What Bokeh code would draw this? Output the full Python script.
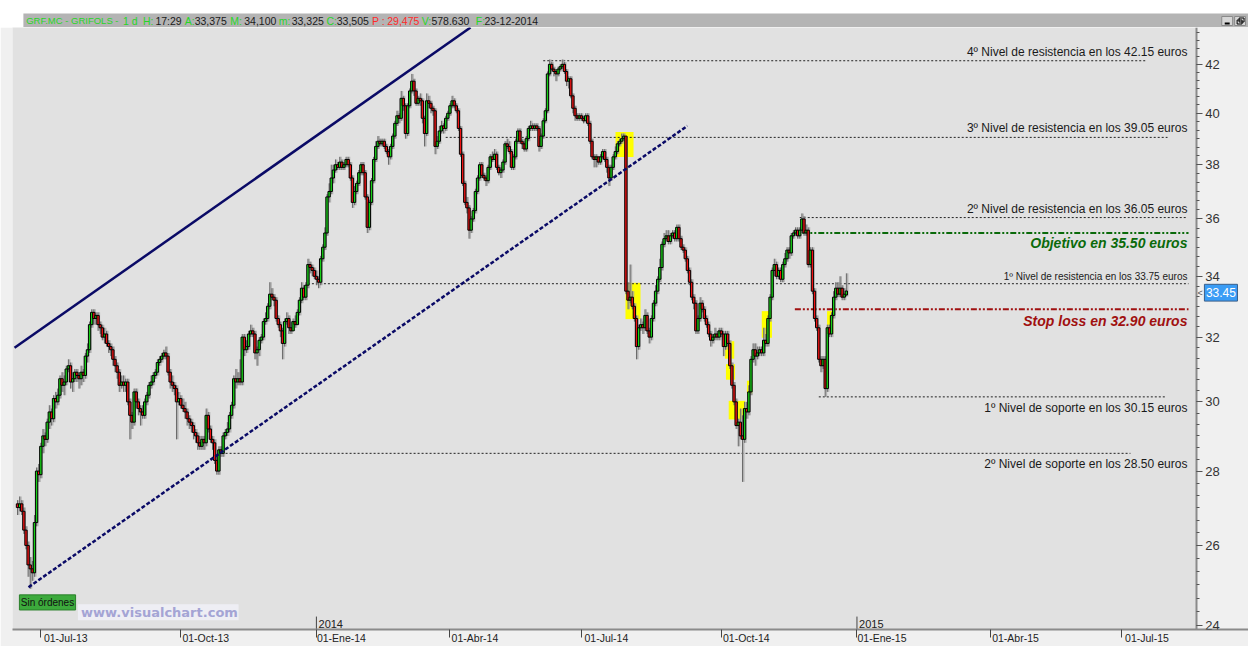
import numpy as np
import pandas as pd
from bokeh.plotting import figure
from bokeh.models import Range1d, FixedTicker, ColumnDataSource, PrintfTickFormatter
from bokeh.layouts import column
from bokeh.core.properties import value
from bokeh.embed import file_html
from bokeh.resources import INLINE

# ---------------- data (daily bars GRF.MC, 14-Jun-2013 .. 23-Dec-2014) ----------------
closes = [
27.0, 27.1, 26.9, 26.4, 26.0, 25.5, 25.4, 25.3, 26.6, 28.0,
27.9, 28.7, 29.0, 28.9, 29.4, 29.7, 29.5, 30.1, 30.0, 30.2,
30.7, 30.5, 30.6, 31.0, 31.1, 30.6, 30.7, 30.9, 30.8, 30.7,
30.9, 30.8, 31.4, 31.6, 32.4, 32.8, 32.6, 32.7, 32.4, 32.3,
32.0, 32.1, 31.8, 31.7, 31.6, 31.3, 31.1, 30.9, 30.5, 30.6,
30.5, 30.6, 30.0, 29.6, 29.4, 30.3, 30.0, 29.8, 29.7, 29.6,
30.0, 30.2, 30.5, 30.6, 30.8, 30.9, 31.2, 31.3, 31.4, 31.5,
31.4, 30.9, 30.6, 30.5, 30.4, 30.0, 30.1, 29.9, 29.8, 29.7,
29.5, 29.4, 29.3, 29.1, 29.0, 28.8, 28.7, 28.9, 28.8, 29.6,
29.2, 28.9, 28.8, 28.3, 28.0, 28.6, 28.5, 29.0, 29.1, 29.2,
29.6, 29.9, 30.7, 30.6, 30.7, 30.6, 32.0, 31.6, 31.7, 32.1,
32.2, 32.1, 31.5, 31.6, 31.9, 32.0, 32.5, 32.6, 33.0, 33.4,
33.3, 33.2, 32.6, 32.4, 32.2, 31.8, 32.5, 32.6, 32.3, 32.2,
32.5, 32.4, 32.8, 33.2, 33.6, 33.3, 33.7, 34.4, 34.3, 34.2,
34.0, 33.9, 33.8, 34.6, 35.0, 35.5, 36.8, 37.0, 37.5, 37.8,
38.0, 37.9, 38.1, 37.9, 38.0, 38.2, 38.0, 37.5, 36.6, 37.0,
37.3, 37.7, 38.0, 37.7, 36.8, 35.7, 36.6, 37.4, 38.2, 38.7,
38.9, 38.8, 38.9, 38.7, 38.5, 38.3, 38.7, 39.1, 39.6, 39.9,
39.8, 40.6, 40.3, 39.2, 40.3, 40.9, 41.3, 40.9, 40.4, 40.6,
40.5, 39.8, 39.2, 40.5, 40.4, 40.2, 40.1, 38.7, 38.9, 39.3,
39.5, 39.4, 39.8, 40.0, 40.3, 40.5, 40.3, 40.1, 39.4, 38.4,
37.3, 36.6, 36.4, 35.6, 36.0, 36.3, 37.0, 37.5, 38.0, 37.6,
37.5, 37.4, 37.9, 38.3, 38.2, 38.4, 37.9, 37.7, 37.8, 38.1,
38.8, 38.7, 38.5, 37.9, 38.3, 38.9, 39.3, 38.9, 38.8, 38.6,
39.0, 39.4, 39.5, 39.4, 39.5, 39.4, 38.7, 39.1, 39.7, 40.1,
41.6, 42.0, 41.8, 41.7, 41.6, 41.8, 41.9, 42.0, 41.7, 41.3,
41.4, 40.7, 40.2, 39.9, 39.8, 39.9, 39.8, 39.7, 39.9, 39.6,
38.9, 38.3, 38.2, 38.3, 38.1, 38.3, 38.5, 38.2, 37.9, 37.5,
37.9, 38.3, 38.5, 38.8, 38.9, 39.0, 39.1, 33.5, 33.2, 33.3,
33.0, 32.6, 31.7, 32.3, 32.4, 32.3, 32.7, 32.2, 32.0, 32.6,
33.1, 33.5, 33.9, 34.3, 35.1, 35.3, 35.4, 35.2, 35.4, 35.5,
35.3, 35.7, 35.3, 35.0, 34.9, 34.6, 34.2, 33.8, 33.3, 33.1,
32.2, 32.6, 33.1, 32.9, 32.6, 32.4, 32.1, 31.9, 32.0, 32.1,
32.0, 32.2, 32.1, 31.7, 32.1, 31.8, 31.1, 30.5, 30.0, 29.3,
29.4, 29.0, 28.9, 29.8, 29.7, 30.3, 31.3, 31.6, 31.4, 31.5,
31.6, 31.5, 31.9, 31.8, 32.6, 33.3, 34.2, 34.4, 34.0, 34.2,
33.9, 34.4, 34.6, 34.9, 34.8, 35.4, 35.5, 35.6, 35.4, 35.6,
36.0, 35.5, 35.6, 34.4, 34.9, 33.5, 32.6, 32.3, 31.3, 31.1,
31.3, 30.4, 32.3, 32.1, 32.7, 33.3, 33.6, 33.4, 33.6, 33.3,
33.4, 33.505]

highs = [
27.2, 27.3, 27.2, 27.0, 26.5, 26.1, 25.7, 25.6, 26.8, 28.1,
28.2, 28.8, 29.2, 29.1, 29.5, 29.9, 29.8, 30.2, 30.3, 30.4,
30.8, 30.9, 30.8, 31.1, 31.3, 31.2, 30.9, 31.0, 31.0, 30.9,
31.1, 31.0, 31.5, 31.8, 32.5, 32.9, 32.9, 32.8, 32.8, 32.5,
32.4, 32.3, 32.2, 31.9, 31.8, 31.7, 31.4, 31.2, 31.0, 30.8,
30.8, 30.7, 30.7, 30.1, 29.7, 30.4, 30.4, 30.1, 29.9, 29.9,
30.1, 30.3, 30.6, 30.8, 30.9, 31.0, 31.3, 31.4, 31.5, 31.6,
31.7, 31.5, 31.0, 30.8, 30.6, 30.5, 30.3, 30.2, 30.1, 30.0,
29.8, 29.6, 29.5, 29.4, 29.2, 29.1, 29.0, 29.0, 29.0, 29.8,
29.7, 29.3, 29.0, 28.9, 28.4, 28.7, 28.7, 29.1, 29.2, 29.4,
29.7, 30.0, 30.8, 31.0, 30.9, 31.3, 32.1, 32.1, 31.9, 32.2,
32.4, 32.3, 32.2, 31.7, 32.0, 32.1, 32.6, 32.8, 33.1, 33.8,
33.6, 33.4, 33.3, 32.7, 32.5, 32.3, 32.6, 32.8, 32.7, 32.5,
32.6, 32.7, 32.9, 33.3, 33.8, 33.7, 33.8, 34.6, 34.5, 34.4,
34.3, 34.2, 34.0, 34.7, 35.1, 35.7, 36.9, 37.3, 38.0, 38.0,
38.2, 38.1, 38.3, 38.2, 38.1, 38.3, 38.3, 38.1, 37.6, 37.2,
37.4, 37.8, 38.1, 38.1, 37.8, 36.9, 36.7, 37.5, 38.3, 38.9,
39.1, 39.0, 39.0, 39.0, 38.8, 38.6, 38.8, 39.2, 39.7, 40.1,
40.0, 40.9, 40.7, 40.4, 40.4, 41.0, 41.6, 41.4, 41.0, 40.7,
40.8, 40.6, 39.9, 40.8, 40.7, 40.5, 40.3, 40.2, 39.1, 39.5,
39.7, 39.6, 39.9, 40.1, 40.4, 40.7, 40.6, 40.4, 40.2, 39.5,
38.5, 37.4, 36.8, 36.5, 36.1, 36.4, 37.1, 37.6, 38.1, 38.1,
37.7, 37.6, 38.0, 38.4, 38.5, 38.6, 38.5, 38.0, 37.9, 38.2,
38.9, 39.0, 38.9, 38.6, 38.4, 39.0, 39.4, 39.4, 39.0, 38.9,
39.1, 39.5, 39.7, 39.6, 39.6, 39.6, 39.5, 39.2, 39.8, 40.2,
41.7, 42.2, 42.1, 41.9, 41.8, 41.9, 42.0, 42.2, 42.1, 41.8,
41.5, 41.5, 40.8, 40.3, 40.0, 40.0, 40.0, 39.9, 40.0, 40.0,
39.7, 39.0, 38.4, 38.4, 38.3, 38.4, 38.6, 38.6, 38.3, 38.0,
38.0, 38.4, 38.7, 38.9, 39.0, 39.2, 39.2, 39.1, 33.8, 34.4,
33.5, 33.1, 32.7, 32.4, 32.6, 32.5, 32.9, 32.8, 32.3, 32.7,
33.2, 33.7, 34.0, 34.6, 35.2, 35.5, 35.6, 35.6, 35.5, 35.6,
35.6, 35.8, 35.8, 35.4, 35.1, 35.0, 34.7, 34.3, 33.9, 33.4,
33.2, 32.7, 33.3, 33.2, 33.0, 32.7, 32.5, 32.2, 32.1, 32.3,
32.2, 32.3, 32.3, 32.2, 32.2, 32.2, 31.9, 31.2, 30.6, 30.1,
29.5, 29.8, 29.6, 30.0, 30.0, 30.5, 31.4, 31.8, 31.8, 31.7,
31.7, 31.7, 32.3, 32.1, 32.7, 33.4, 34.3, 34.6, 34.5, 34.3,
34.3, 34.5, 34.8, 35.0, 35.0, 35.5, 35.6, 35.7, 35.7, 35.7,
36.2, 36.1, 35.8, 35.7, 35.0, 35.0, 33.6, 32.7, 32.4, 31.4,
31.4, 31.4, 32.4, 32.4, 32.8, 33.5, 33.8, 33.8, 34.0, 33.7,
33.6, 34.1]

lows = [
26.8, 26.9, 26.8, 26.3, 25.9, 25.2, 24.9, 25.1, 25.2, 26.5,
27.7, 27.8, 28.5, 28.7, 28.8, 29.2, 29.3, 29.4, 29.8, 29.9,
30.1, 30.3, 30.2, 30.5, 30.9, 30.4, 30.3, 30.6, 30.6, 30.4,
30.5, 30.6, 30.7, 31.2, 31.5, 32.3, 32.4, 32.4, 32.2, 32.1,
31.9, 31.8, 31.7, 31.5, 31.4, 31.1, 30.9, 30.7, 30.3, 30.4,
30.3, 30.3, 29.9, 28.9, 29.2, 29.3, 29.8, 29.6, 29.3, 29.5,
29.5, 29.9, 30.1, 30.4, 30.5, 30.7, 30.8, 31.1, 31.2, 31.3,
31.3, 30.8, 30.4, 30.3, 30.2, 28.9, 29.9, 29.8, 29.7, 29.5,
29.3, 29.2, 29.1, 28.9, 28.8, 28.6, 28.6, 28.6, 28.6, 28.7,
29.1, 28.8, 28.6, 28.2, 27.9, 27.9, 28.4, 28.4, 28.9, 29.0,
29.1, 29.5, 29.8, 30.4, 30.5, 30.5, 30.5, 31.4, 31.5, 31.6,
32.0, 32.0, 31.3, 31.1, 31.4, 31.8, 31.9, 32.4, 32.5, 32.9,
33.2, 33.0, 32.5, 32.3, 32.0, 31.3, 31.7, 32.4, 32.1, 32.1,
32.2, 32.3, 32.4, 32.7, 33.1, 33.2, 33.2, 33.6, 34.1, 34.0,
33.9, 33.7, 33.6, 33.7, 34.5, 34.9, 35.4, 36.6, 36.9, 37.3,
37.7, 37.8, 37.8, 37.8, 37.8, 37.9, 37.9, 37.4, 36.4, 36.5,
36.9, 37.2, 37.6, 37.6, 36.7, 35.5, 35.6, 36.5, 37.3, 38.1,
38.6, 38.7, 38.7, 38.6, 38.4, 38.0, 38.2, 38.6, 39.0, 39.5,
39.6, 39.7, 40.1, 39.0, 39.1, 40.2, 40.8, 40.7, 40.3, 40.3,
40.3, 39.6, 38.7, 39.1, 40.2, 40.0, 39.9, 38.4, 38.6, 38.8,
39.2, 39.2, 39.3, 39.7, 39.9, 40.2, 40.2, 40.0, 39.3, 38.3,
37.2, 36.5, 36.2, 35.3, 35.5, 35.9, 36.2, 36.9, 37.4, 37.5,
37.4, 37.2, 37.3, 37.8, 38.1, 38.2, 37.8, 37.6, 37.5, 37.7,
38.0, 38.6, 38.4, 37.8, 37.8, 38.2, 38.8, 38.8, 38.6, 38.5,
38.5, 38.9, 39.3, 39.3, 39.3, 39.3, 38.5, 38.6, 39.0, 39.6,
40.0, 41.5, 41.7, 41.5, 41.3, 41.5, 41.7, 41.8, 41.6, 41.1,
41.0, 40.6, 40.0, 39.7, 39.7, 39.7, 39.7, 39.6, 39.7, 39.5,
38.8, 38.2, 37.9, 37.9, 38.0, 38.0, 38.2, 38.1, 37.7, 37.2,
37.4, 37.8, 38.2, 38.4, 38.7, 38.8, 38.9, 33.4, 32.9, 33.1,
32.9, 32.5, 31.3, 31.6, 32.2, 32.1, 32.2, 32.1, 31.8, 31.9,
32.5, 33.0, 33.4, 33.8, 34.2, 35.0, 35.2, 35.1, 35.1, 35.3,
35.2, 35.2, 35.2, 34.9, 34.8, 34.5, 34.1, 33.7, 33.2, 32.9,
32.1, 32.1, 32.5, 32.8, 32.5, 32.3, 32.0, 31.7, 31.8, 31.9,
31.9, 31.9, 32.0, 31.4, 31.6, 31.7, 31.0, 30.4, 29.9, 29.2,
28.7, 28.9, 27.7, 28.8, 29.5, 29.6, 30.2, 31.2, 31.1, 31.3,
31.4, 31.4, 31.4, 31.7, 31.7, 32.5, 33.2, 34.0, 33.9, 33.9,
33.8, 33.8, 34.3, 34.5, 34.6, 34.7, 35.3, 35.4, 35.3, 35.3,
35.5, 35.4, 35.4, 34.3, 34.3, 33.4, 32.5, 32.2, 31.2, 30.9,
31.0, 30.15, 30.3, 32.0, 32.0, 32.6, 33.2, 33.3, 33.3, 33.2,
33.2, 33.325]

first_open = 27.1          # open of the first bar
last_open = 33.375         # "A: 33,375" of 23-12-2014
last_price = 33.45

start_date = "2013-06-14"
holidays = ["2013-12-25", "2013-12-26", "2014-01-01", "2014-04-18", "2014-04-21",
            "2014-05-01", "2014-12-25", "2014-12-26", "2015-01-01", "2015-04-03",
            "2015-04-06", "2015-05-01"]
tick_dates = ["2013-07-01", "2013-10-01", "2014-01-01", "2014-04-01", "2014-07-01",
              "2014-10-01", "2015-01-01", "2015-04-01", "2015-07-01"]
tick_labels = ["01-Jul-13", "01-Oct-13", "01-Ene-14", "01-Abr-14", "01-Jul-14",
               "01-Oct-14", "01-Ene-15", "01-Abr-15", "01-Jul-15"]
year_dates = ["2014-01-01", "2015-01-01"]
year_labels = ["2014", "2015"]
price_ticks = [24, 26, 28, 30, 32, 34, 36, 38, 40, 42]

levels = [42.15, 39.05, 36.05, 33.75, 30.15, 28.50]
level_texts = ["4º Nivel de resistencia en los 42.15 euros",
               "3º Nivel de resistencia en los 39.05 euros",
               "2º Nivel de resistencia en los 36.05 euros",
               "1º Nivel de resistencia en los 33.75 euros",
               "1º Nivel de soporte en los 30.15 euros",
               "2º Nivel de soporte en los 28.50 euros"]
target_price = 35.50
target_text = "Objetivo en 35.50 euros"
stop_price = 32.90
stop_text = "Stop loss en 32.90 euros"

hdr_texts = ["GRF.MC - GRIFOLS -", "1 d", "H:", "17:29", "A:", "33,375", "M:", "34,100",
             "m:", "33,325", "C:", "33,505", "P :", "29,475", "V:", "578.630", "F:", "23-12-2014"]

# ---------------- layout / styling (not data) ----------------
G, K, R = "#27d627", "#1a1a1a", "#ff2a2a"
hdr_colors = [G, G, G, K, G, K, G, K, G, K, G, K, R, R, G, K, G, K]
hdr_x = [13.8, 111.5, 131.7, 144.3, 174, 183.9, 219.8, 234, 268.9, 281.9, 317, 327.4,
         363, 378.4, 413.2, 423, 467.8, 476.5]
hdr_fs = ["9.5px"] + ["10.5px"] * (len(hdr_texts) - 1)

X0, X1 = -2.36, 580.7          # visible bar-index range (frame spans whole width)
AXIS_AT = 556.1                # bar index where the price axis sits
LABEL_SHIFT = 11.8             # date labels start just right of their tick mark
level_start = [248, 202, 369, 137, 378, 92.5]
level_end = [532, 542.5, 552, 552.4, 542, 525]
level_above = [True, True, True, True, False, False]
level_size = ["12px", "12px", "12px", "10px", "12px", "12px"]
text_right = 551.9

# channel lines (bar index, price) end points
up_x, up_y = [-1.4, 213.7], [31.66, 43.57]
lo_x, lo_y = [5.2, 316.0], [24.94, 39.5]

# yellow highlight boxes (bar range, price range)
hl = [(282.1, 290.6, 38.29, 39.26), (286.8, 293.9, 32.58, 33.78),
      (333.7, 338.1, 31.32, 31.87), (334.2, 338.5, 30.67, 31.15),
      (335.5, 343.3, 29.48, 30.03), (344.1, 346.8, 30.25, 30.64),
      (351.1, 355.9, 31.98, 32.84), (381.9, 384.9, 32.12, 32.84)]

# ---------------- build ----------------
n = min(len(closes), len(highs), len(lows))
closes, highs, lows = closes[:n], highs[:n], lows[:n]
opens = [first_open] + closes[:-1]
opens[-1] = last_open
idx = list(range(n))
up = [c >= o for o, c in zip(opens, closes)]
src = ColumnDataSource(dict(
    x=idx, xs=[i + 0.5 for i in idx], h=highs, l=lows,
    top=[max(o, c) for o, c in zip(opens, closes)],
    bot=[min(o, c) for o, c in zip(opens, closes)],
    col=["#18d018" if u else "#f01414" for u in up]))

cal = pd.bdate_range(start_date, "2015-09-30", freq="C", holidays=holidays)
tick_pos = [int(cal.searchsorted(pd.Timestamp(d))) for d in tick_dates]
year_pos = [int(cal.searchsorted(pd.Timestamp(d))) for d in year_dates]
label_pos = [t + LABEL_SHIFT for t in tick_pos]

FONT = "Liberation Sans"
YR = Range1d(23.91, 43.57)

p = figure(width=1248, height=619, x_range=Range1d(X0, X1), y_range=YR,
           y_axis_type="log", y_axis_location="right",
           output_backend="svg", toolbar_location=None,
           min_border_left=12, min_border_right=0, min_border_top=0, min_border_bottom=14,
           background_fill_color="#e1e1e1", border_fill_color="#f0f0f0",
           outline_line_color=None)
p.grid.visible = False

# right-hand price panel background
p.quad(left=[AXIS_AT], right=[X1 + 5], bottom=[YR.start], top=[YR.end],
       fill_color="#f0f0f0", line_color=None)

# y axis drawn at the panel edge
yax = p.yaxis[0]
yax.fixed_location = AXIS_AT
yax.ticker = FixedTicker(ticks=price_ticks,
                         minor_ticks=[24 + k / 3 for k in range(0, 61)])
yax.formatter = PrintfTickFormatter(format="%d")
yax.axis_line_color = "#8a8a8a"
yax.axis_line_width = 2
yax.major_tick_out = 6
yax.major_tick_in = 0
yax.minor_tick_out = 3
yax.minor_tick_in = 0
yax.major_tick_line_color = "#555555"
yax.minor_tick_line_color = "#555555"
yax.major_label_text_font = FONT
yax.major_label_text_font_size = "13px"
yax.major_label_text_color = "#333333"
yax.major_label_standoff = 3

# x axis: labels sit just right of the date tick marks (drawn as minor ticks)
xax = p.xaxis[0]
xax.ticker = FixedTicker(ticks=label_pos, minor_ticks=tick_pos)
xax.major_label_overrides = {pos: lab for pos, lab in zip(label_pos, tick_labels)}
xax.axis_line_color = "#8a8a8a"
xax.axis_line_width = 2
xax.major_tick_out = 0
xax.major_tick_in = 0
xax.minor_tick_out = 8
xax.minor_tick_in = 0
xax.minor_tick_line_color = "#444444"
xax.major_label_standoff = -6
xax.major_label_text_font = FONT
xax.major_label_text_font_size = "10.5px"
xax.major_label_text_color = "#222222"

# yellow highlights
p.quad(left=[b[0] for b in hl], right=[b[1] for b in hl], bottom=[b[2] for b in hl],
       top=[b[3] for b in hl], fill_color="#ffff00", line_color=None)

# level lines
p.segment(x0=level_start, x1=level_end, y0=levels, y1=levels,
          line_color="#222222", line_width=1, line_dash="2 2")
p.segment(x0=[370.2], x1=[552.4], y0=[target_price], y1=[target_price],
          line_color="#0a6a0a", line_width=2, line_dash="6 2 2 2 2 2")
p.segment(x0=[366.7], x1=[552.4], y0=[stop_price], y1=[stop_price],
          line_color="#a01010", line_width=2, line_dash="6 2 2 2 2 2")

# candles
p.vbar(x="xs", width=0.9, top="h", bottom="l", source=src,
       fill_color="#a0a0a0", line_color=None, fill_alpha=0.75)
p.segment(x0="x", x1="x", y0="l", y1="h", source=src, line_color="#6a6a6a", line_width=1)
p.vbar(x="x", width=1.1, top="top", bottom="bot", source=src,
       fill_color="col", line_color="#000000", line_width=1)

# channel lines
p.line(up_x, up_y, line_color="#0a0a66", line_width=2.5)
p.line(lo_x, lo_y, line_color="#0a0a66", line_width=2.5, line_dash="4 2")

# level texts
for lv, t, above, fs in zip(levels, level_texts, level_above, level_size):
    p.text(x=[text_right], y=[lv], text=[t], text_align="right",
           text_baseline="bottom" if above else "top", y_offset=-2 if above else 4,
           text_font=value(FONT), text_font_size=fs, text_color="#1a1a1a")
p.text(x=[text_right], y=[target_price], text=[target_text], text_align="right",
       text_baseline="top", y_offset=2, text_font=value(FONT), text_font_size="14px",
       text_font_style="bold italic", text_color="#0a6a0a")
p.text(x=[text_right], y=[stop_price], text=[stop_text], text_align="right",
       text_baseline="top", y_offset=4, text_font=value(FONT), text_font_size="14px",
       text_font_style="bold italic", text_color="#a01010")

# year markers
p.segment(x0=year_pos, x1=year_pos, y0=[24.22] * len(year_pos), y1=[23.91] * len(year_pos),
          line_color="#444444", line_width=1)
p.text(x=[v + 1 for v in year_pos], y=[23.95] * len(year_pos), text=year_labels,
       text_baseline="bottom", text_font=value(FONT), text_font_size="11px",
       text_color="#222222")

# "Sin órdenes" box and watermark
p.quad(left=[0.9], right=[27.4], bottom=[24.38], top=[24.75],
       fill_color="#3caa3c", line_color="#2a7f2a")
p.text(x=[14.15], y=[24.565], text=["Sin órdenes"], text_align="center",
       text_baseline="middle", text_font=value(FONT), text_font_size="10px",
       text_color="#111111")
p.quad(left=[28.5], right=[104.3], bottom=[24.13], top=[24.52],
       fill_color="#eeeef4", line_color=None)
p.text(x=[30.0], y=[24.32], text=["www.visualchart.com"], text_baseline="middle",
       text_font=value("DejaVu Sans"), text_font_size="13px", text_font_style="bold",
       text_color="#a4a4d4")

# last price box on the axis
p.quad(left=[559.9], right=[575.5], bottom=[33.17], top=[33.73],
       fill_color="#3a9cf5", line_color="#3a5f8a")
p.text(x=[567.7], y=[last_price], text=["33.45"], text_align="center",
       text_baseline="middle", text_font=value(FONT), text_font_size="12px",
       text_color="#ffffff")
p.text(x=[AXIS_AT + 0.6], y=[last_price], text=["<"], text_baseline="middle",
       text_font=value(FONT), text_font_size="9px", text_color="#555555")

# ---------------- header bar ----------------
hdr = figure(width=1248, height=27, x_range=Range1d(0, 1248), y_range=Range1d(0, 27),
             output_backend="svg", toolbar_location=None, min_border=0,
             x_axis_location=None, y_axis_location=None,
             background_fill_color="white", border_fill_color="white",
             outline_line_color=None)
hdr.grid.visible = False
hdr.quad(left=[11], right=[1248], bottom=[0], top=[14], fill_color="#b4b4b4", line_color=None)
hdr.text(x=hdr_x, y=7, text=hdr_texts, text_color=hdr_colors,
         text_font=value(FONT), text_font_size=hdr_fs, text_baseline="middle")
hdr.quad(left=[1221, 1234], right=[1232, 1245], bottom=[2, 2], top=[11, 11],
         fill_color="#d6d6d6", line_color="#8a8a8a")
hdr.segment(x0=[1224], x1=[1229], y0=[4], y1=[4], line_color="black", line_width=2)
hdr.quad(left=[1236.5, 1238.5], right=[1241.5, 1243.5], bottom=[3.5, 5.5], top=[7.5, 9.5],
         fill_color=None, line_color="black", line_width=1)

layout = column(hdr, p, spacing=0)
open("out.html", "w").write(file_html(layout, INLINE))
